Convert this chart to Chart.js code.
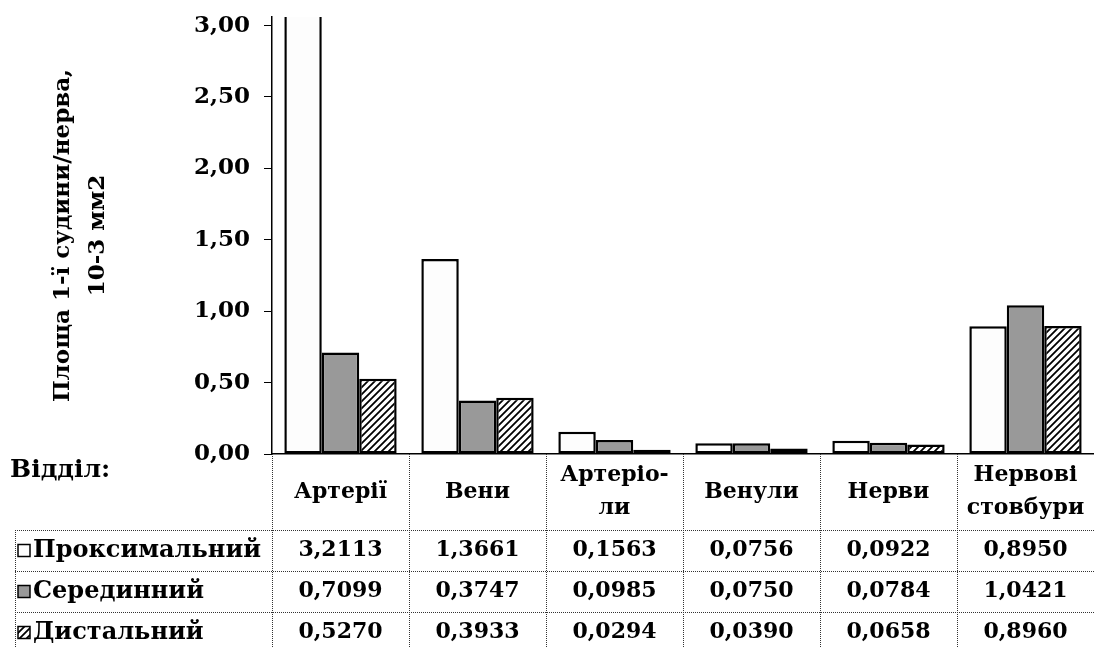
<!DOCTYPE html>
<html lang="uk">
<head>
<meta charset="UTF-8">
<title>Площа 1-ї судини/нерва</title>
<script src="https://cdn.jsdelivr.net/npm/chart.js"></script>
<style>
    body { margin: 0; background: #fff; }
    #wrap { width: 1094px; height: 648px; }
</style>
</head>
<body>
<div id="wrap"><canvas id="chart" width="1094" height="648"></canvas></div>
<script>
// data
const categories = [['Артерії'], ['Вени'], ['Артеріо-', 'ли'], ['Венули'], ['Нерви'], ['Нервові', 'стовбури']];
const seriesNames = ['Проксимальний', 'Серединний', 'Дистальний'];
const proximal = [3.2113, 1.3661, 0.1563, 0.0756, 0.0922, 0.8950];
const middle = [0.7099, 0.3747, 0.0985, 0.0750, 0.0784, 1.0421];
const distal = [0.5270, 0.3933, 0.0294, 0.0390, 0.0658, 0.8960];
const yTicks = [0, 0.5, 1, 1.5, 2, 2.5, 3];
const yMax = 3.06;
const yTitle = ['Площа 1-ї судини/нерва,', '10-3 мм2'];
const rowHeader = 'Відділ:';

const FONT = '"DejaVu Serif", "Liberation Serif", serif';

function hatchPattern() {
    const c = document.createElement('canvas');
    c.width = 7; c.height = 7;
    const g = c.getContext('2d');
    g.fillStyle = '#fff';
    g.fillRect(0, 0, 7, 7);
    g.strokeStyle = '#000';
    g.lineWidth = 1.8;
    g.beginPath();
    g.moveTo(-1, 8); g.lineTo(8, -1);
    g.moveTo(-1, 1); g.lineTo(1, -1);
    g.moveTo(6, 8); g.lineTo(8, 6);
    g.stroke();
    return g.createPattern(c, 'repeat');
}
const hatch = hatchPattern();
const fills = ['#fdfdfd', '#999999', hatch];
const seriesValues = [proximal, middle, distal];

const fmt = (v, d) => v.toFixed(d).replace('.', ',');

const tablePlugin = {
    id: 'dataTable',
    afterDraw(chart) {
        const ctx = chart.ctx;
        const x = chart.scales.x;
        const area = chart.chartArea;
        const n = categories.length;
        const colW = (x.right - x.left) / n;
        const headTop = area.bottom;
        const headBottom = 530;
        const rowH = 41;
        const tableLeft = 15;

        ctx.save();
        ctx.strokeStyle = '#333';
        ctx.lineWidth = 1;
        ctx.setLineDash([1, 1]);
        const line = (x1, y1, x2, y2) => { ctx.beginPath(); ctx.moveTo(x1, y1); ctx.lineTo(x2, y2); ctx.stroke(); };
        for (let i = 0; i <= n; i++) {
            const xp = Math.round(x.left + i * colW) + 0.5;
            line(xp, headTop, xp, chart.height);
        }
        line(tableLeft + 0.5, headBottom, tableLeft + 0.5, chart.height);
        for (let r = 0; r < seriesNames.length; r++) {
            const yp = headBottom + r * rowH + 0.5;
            line(tableLeft, yp, x.right, yp);
        }
        ctx.setLineDash([]);

        ctx.fillStyle = '#000';
        ctx.textBaseline = 'middle';

        // header
        ctx.font = 'bold 25px ' + FONT;
        ctx.textAlign = 'left';
        ctx.fillText(rowHeader, 10, 470);
        ctx.font = 'bold 22px ' + FONT;
        ctx.textAlign = 'center';
        const headMid = (headTop + headBottom) / 2;
        categories.forEach((lines, i) => {
            const cx = x.getPixelForValue(i);
            const start = headMid - (lines.length - 1) * 33 / 2;
            lines.forEach((t, k) => ctx.fillText(t, cx, start + k * 33));
        });

        // rows
        seriesNames.forEach((name, r) => {
            const cy = headBottom + r * rowH + rowH / 2;
            ctx.fillStyle = fills[r];
            ctx.fillRect(18, cy - 6, 12, 12);
            ctx.strokeStyle = '#000';
            ctx.lineWidth = 1.5;
            ctx.strokeRect(18, cy - 6, 12, 12);
            ctx.fillStyle = '#000';
            ctx.textAlign = 'left';
            ctx.font = 'bold 24px ' + FONT;
            ctx.fillText(name, 33, cy);
            ctx.textAlign = 'center';
            ctx.font = 'bold 22px ' + FONT;
            seriesValues[r].forEach((v, i) => ctx.fillText(fmt(v, 4), x.getPixelForValue(i), cy));
        });
        ctx.restore();
    }
};

new Chart(document.getElementById('chart'), {
    type: 'bar',
    data: {
        labels: categories.map(c => c.join(' ')),
        datasets: seriesNames.map((name, r) => ({
            label: name,
            data: seriesValues[r],
            backgroundColor: fills[r],
            borderColor: '#000',
            borderWidth: 2.5,
            borderSkipped: false,
            categoryPercentage: 0.82,
            barPercentage: 1.0
        }))
    },
    options: {
        responsive: false,
        animation: false,
        devicePixelRatio: 1,
        layout: { padding: { left: 10, right: 0, top: 17, bottom: 194 } },
        plugins: { legend: { display: false }, tooltip: { enabled: false } },
        scales: {
            x: {
                afterFit: scale => { scale.height = 0; },
                ticks: { display: false },
                grid: { display: false },
                border: { display: true, color: '#000', width: 1.5 }
            },
            y: {
                min: 0,
                max: yMax,
                afterBuildTicks: axis => { axis.ticks = yTicks.map(v => ({ value: v })); },
                afterFit: scale => {
                    scale.width = 262;
                    scale.paddingTop = 0;
                    scale.paddingBottom = 0;
                },
                ticks: {
                    callback: v => fmt(v, 2),
                    color: '#000',
                    padding: 14,
                    font: { family: FONT, size: 23, weight: 'bold' }
                },
                grid: { display: true, drawOnChartArea: false, tickLength: 8, color: '#000', lineWidth: 1 },
                border: { display: true, color: '#000', width: 1.5 },
                title: {
                    display: true,
                    text: yTitle,
                    color: '#000',
                    font: { family: FONT, size: 23, weight: 'bold', lineHeight: 1.5 },
                    padding: { top: 36, bottom: 0 }
                }
            }
        }
    },
    plugins: [tablePlugin]
});
</script>
</body>
</html>
